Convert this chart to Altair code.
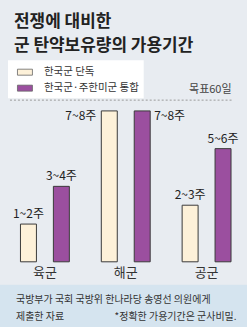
import altair as alt
import pandas as pd

FONT = "Noto Sans CJK KR"

categories = ["육군", "해군", "공군"]
series = ["한국군 단독", "한국군·주한미군 통합"]
solo_days = [14, 56, 21]
combined_days = [28, 56, 42]
solo_labels = ["1~2주", "7~8주", "2~3주"]
combined_labels = ["3~4주", "7~8주", "5~6주"]
target_days = 60
target_label = "목표60일"
title_lines = ["전쟁에 대비한", "군 탄약보유량의 가용기간"]
source_lines = ["국방부가 국회 국방위 한나라당 송영선 의원에게", "제출한 자료"]
note = "*정확한 가용기간은 군사비밀."

rows = []
for i, c in enumerate(categories):
    rows.append({"군": c, "구분": series[0], "days": solo_days[i], "label": solo_labels[i]})
    rows.append({"군": c, "구분": series[1], "days": combined_days[i], "label": combined_labels[i]})
df = pd.DataFrame(rows)

LIGHT = "#fdf1d9"
PURPLE = "#9b4f9f"

x = alt.X("군:N", sort=categories,
          scale=alt.Scale(paddingInner=0, paddingOuter=0),
          axis=alt.Axis(title=None, domain=False, ticks=False, labelAngle=0,
                        labelFontSize=13, labelColor="#333", labelPadding=5,
                        labelFont=FONT))
xo = alt.XOffset("구분:N", sort=series,
                 scale=alt.Scale(paddingInner=0.515, paddingOuter=0.485))
# y domain ends exactly at the 60-day target, so the target line sits at the top of the plot
y = alt.Y("days:Q", scale=alt.Scale(domain=[0, target_days], nice=False, zero=True),
          axis=None, stack=None)
base = alt.Chart(df).encode(x=x, xOffset=xo, y=y)

leg = alt.Legend(title=None, orient="none", legendX=3.5, legendY=-40,
                 fillColor="white", padding=4,
                 symbolType="M-1,-0.4L1,-0.4L1,0.4L-1,0.4Z",
                 symbolSize=225, symbolStrokeColor="#666",
                 symbolStrokeWidth=0.8, labelFontSize=10.5,
                 labelFont=FONT, labelColor="#333",
                 symbolOffset=5, labelOffset=11, rowPadding=2,
                 direction="vertical")
bars = base.mark_bar(stroke="#3a3a3a", strokeWidth=1).encode(
    color=alt.Color("구분:N", scale=alt.Scale(domain=series, range=[LIGHT, PURPLE]), legend=leg))

lab_kw = dict(font=FONT, fontSize=12, color="#222")
above = base.transform_filter(alt.datum["군"] != "해군").mark_text(
    baseline="bottom", dy=-3, **lab_kw).encode(text="label:N")
navy_left = base.transform_filter(
    (alt.datum["군"] == "해군") & (alt.datum["구분"] == series[0])
).mark_text(align="right", baseline="top", dx=-13, **lab_kw).encode(text="label:N")
navy_right = base.transform_filter(
    (alt.datum["군"] == "해군") & (alt.datum["구분"] == series[1])
).mark_text(align="left", baseline="top", dx=12, **lab_kw).encode(text="label:N")

tdf = pd.DataFrame({"v": [target_days], "t": [target_label]})
target_rule = alt.Chart(tdf).mark_rule(color="#9a9a9a", strokeDash=[2, 2], strokeWidth=1).encode(
    y=alt.value(0), x=alt.value(5.5), x2=alt.value(227.5), detail="t:N")
target_text = alt.Chart(tdf).mark_text(
    align="right", baseline="bottom", dy=-5, font=FONT, fontSize=11, color="#444"
).encode(y=alt.value(0), x=alt.value(227.5), text="t:N")

footer_bg = alt.Chart(pd.DataFrame({"k": ["footer"]})).mark_rect(color="#d5e4ef").encode(
    x=alt.value(-4.5), x2=alt.value(243), y=alt.value(185), y2=alt.value(228),
    detail="k:N")


def text_layer(txt, xv, yv, size, weight="normal", align="left", color="#222"):
    return alt.Chart(pd.DataFrame({"t": [txt]})).mark_text(
        align=align, baseline="middle", fontSize=size, fontWeight=weight,
        font=FONT, color=color
    ).encode(x=alt.value(xv), y=alt.value(yv), text="t:N")


layers = [footer_bg, target_rule, target_text, bars, above, navy_left, navy_right,
          text_layer(title_lines[0], 9.5, -78, 17, "bold"),
          text_layer(title_lines[1], 9.5, -54, 17, "bold"),
          text_layer(source_lines[0], 11.5, 200, 10, color="#333"),
          text_layer(source_lines[1], 11.5, 217, 10, color="#333"),
          text_layer(note, 232.5, 217, 10, align="right", color="#333")]

chart = alt.layer(*layers).properties(
    width=243, height=162,
    autosize=alt.AutoSizeParams(type="none"),
    padding={"left": 4.5, "top": 100, "right": 0, "bottom": 65},
    background="#e8ecf1"
).configure_view(strokeWidth=0)

chart.save("out.html", embed_options={"renderer": "svg", "actions": False})
